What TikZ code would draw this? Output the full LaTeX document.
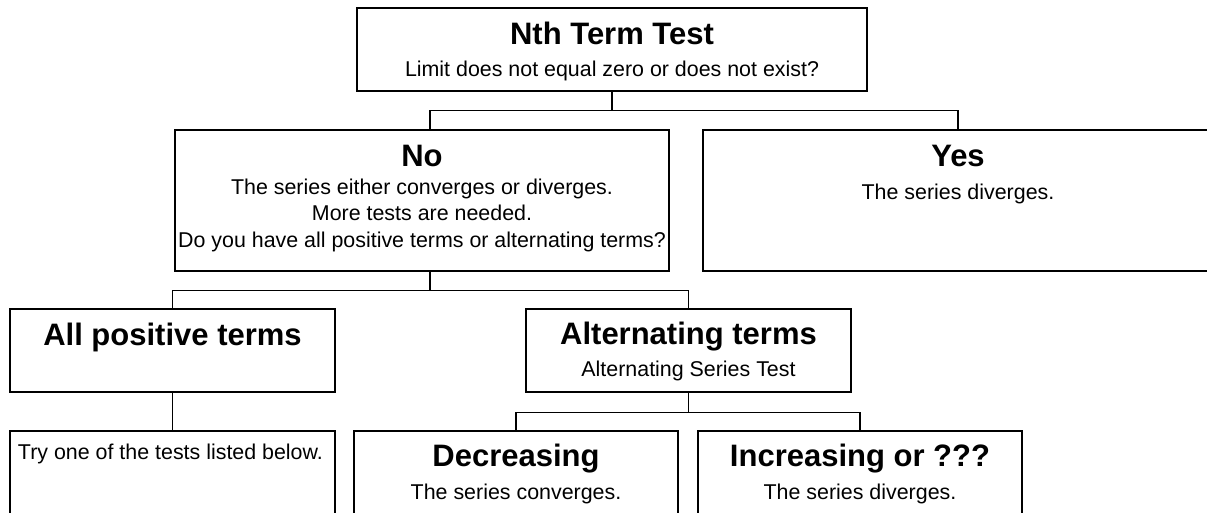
\documentclass[tikz,border=0pt]{standalone}
\usepackage{fontspec}
\setmainfont{Liberation Sans}
\newcommand{\headsize}{\fontsize{31}{37}\selectfont\bfseries}
\newcommand{\bodysize}{\fontsize{21.4}{26.5}\selectfont}
\pgfmathsetmacro{\drop}{19}
\tikzset{
  box/.style={draw, line width=1.1pt, rectangle, inner sep=0pt},
  headline/.style={anchor=base, font=\headsize},
  bodytext/.style={anchor=base, align=center, font=\bodysize},
  connector/.style={line width=1.1pt},
}

\begin{document}
\begin{tikzpicture}[x=1pt, y=-1pt]
    \useasboundingbox (0,0) rectangle (1207,512);
    \clip (0,0) rectangle (1207,512);
    % define boxes
    % nth term test
    \node[box, minimum width=510pt, minimum height=83pt] (nth) at (612,49.5) {};
    % answers
    \node[box, minimum width=494pt, minimum height=141pt] (no) at (422,200.5) {};
    \node[box, minimum width=510pt, minimum height=141pt] (yes) at (958,200.5) {};
    % kind of terms
    \node[box, minimum width=325pt, minimum height=83pt] (pos) at (172.5,350.5) {};
    \node[box, minimum width=325pt, minimum height=83pt] (alt) at (688.5,350.5) {};
    % last row (runs off the page)
    \node[box, minimum width=325pt, minimum height=141pt] (try) at (172.5,501.5) {};
    \node[box, minimum width=324pt, minimum height=141pt] (dec) at (516,501.5) {};
    \node[box, minimum width=324pt, minimum height=141pt] (inc) at (860,501.5) {};
    % draw connectors
    \draw[connector] (nth.south) -- ++(0,\drop) -| ([xshift=8pt]no.north);
    \draw[connector] (nth.south) -- ++(0,\drop) -| (yes.north);
    \draw[connector] ([xshift=8pt]no.south) -- ++(0,\drop) -| (pos.north);
    \draw[connector] ([xshift=8pt]no.south) -- ++(0,\drop) -| (alt.north);
    \draw[connector] (pos.south) -- (try.north);
    \draw[connector] (alt.south) -- ++(0,20) -| (dec.north);
    \draw[connector] (alt.south) -- ++(0,20) -| (inc.north);
    % add labels (base of a multi-line text is its last line)
    \node[headline] (nth_head) at ([yshift=-37pt]nth.north) {Nth Term Test};
    \node[bodytext] (nth_text) at ([yshift=-69pt]nth.north) {Limit does not equal zero or does not exist?};
    \node[headline] (no_head) at ([yshift=-37pt]no.north) {No};
    \node[bodytext] (no_text) at ([yshift=-118pt]no.north) {The series either converges or diverges.\\More tests are needed.\\Do you have all positive terms or alternating terms?};
    \node[headline] (yes_head) at ([yshift=-37pt]yes.north) {Yes};
    \node[bodytext] (yes_text) at ([yshift=-70pt]yes.north) {The series diverges.};
    \node[headline] (pos_head) at ([yshift=-37pt]pos.north) {All positive terms};
    \node[headline] (alt_head) at ([yshift=-36pt]alt.north) {Alternating terms};
    \node[bodytext] (alt_text) at ([yshift=-68pt]alt.north) {Alternating Series Test};
    \node[bodytext, anchor=base west] (try_text) at ([xshift=5pt, yshift=-29pt]try.north west) {Try one of the tests listed below.};
    \node[headline] (dec_head) at ([yshift=-36pt]dec.north) {Decreasing};
    \node[bodytext] (dec_text) at ([yshift=-69pt]dec.north) {The series converges.};
    \node[headline] (inc_head) at ([yshift=-36pt]inc.north) {Increasing or ???};
    \node[bodytext] (inc_text) at ([yshift=-69pt]inc.north) {The series diverges.};
\end{tikzpicture}
\end{document}
